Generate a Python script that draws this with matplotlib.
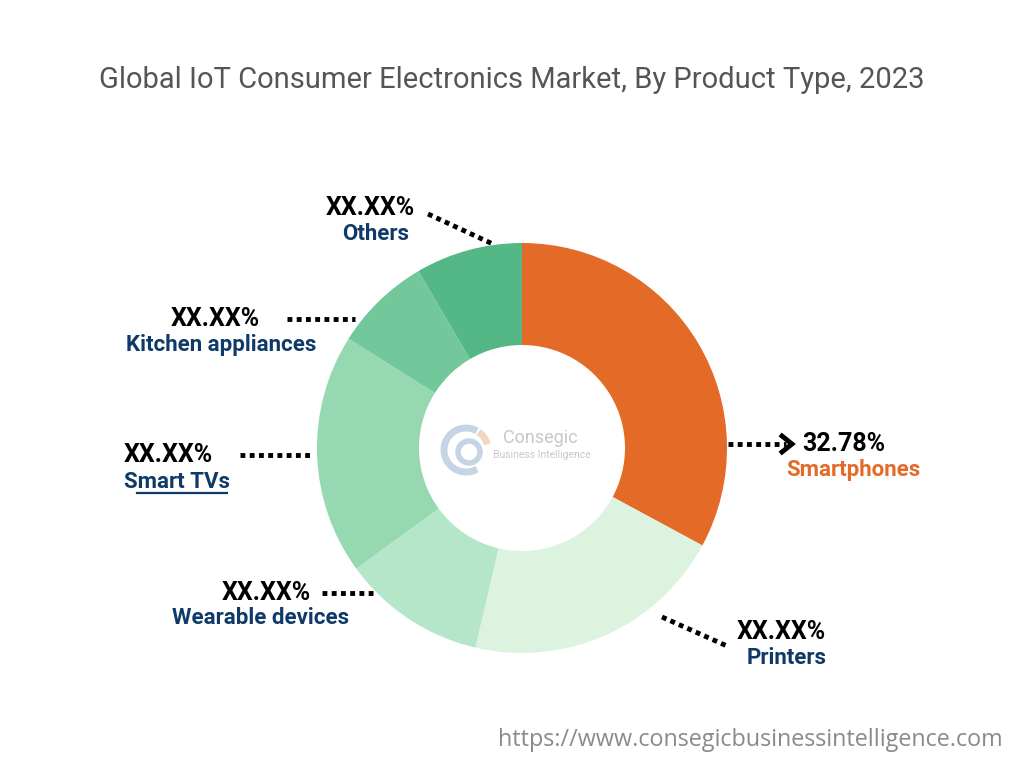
import matplotlib.pyplot as plt
import matplotlib.patches as mpatches

# data
categories = ['Smartphones', 'Printers', 'Wearable devices', 'Smart TVs',
              'Kitchen appliances', 'Others']
shares = [32.78, 20.7, 11.3, 18.9, 7.6, 8.4]
value_labels = ['32.78%', 'XX.XX%', 'XX.XX%', 'XX.XX%', 'XX.XX%', 'XX.XX%']
colors = ['#E36A27', '#DBF3DF', '#B5E6C9', '#96D9B1', '#73C89B', '#53B886']

H = 768
def Y(py):  # pixel row -> data y
    return H - py

plt.rcParams['font.family'] = ['Roboto', 'DejaVu Sans']
fig = plt.figure(figsize=(10.24, 7.68), dpi=100)
ax = fig.add_axes([0, 0, 1, 1])
ax.set_xlim(0, 1024)
ax.set_ylim(0, H)
ax.set_aspect('equal')
ax.axis('off')

ax.pie(shares, colors=colors, startangle=90, counterclock=False,
       center=(522, Y(448)), radius=205, frame=True,
       wedgeprops=dict(width=102, linewidth=0))
ax.set_xlim(0, 1024)
ax.set_ylim(0, H)
ax.axis('off')

ax.text(512, Y(80), 'Global IoT Consumer Electronics Market, By Product Type, 2023',
        ha='center', va='center', fontsize=21, color='#555555')

# leader lines
dots = dict(color='black', linestyle=(0, (1, 0.9)), linewidth=3.5, solid_capstyle='butt')
lines = [((728, 444), (786, 444)), ((662, 617), (727, 646)), ((322, 593), (375, 593)),
         ((240, 455), (310, 455)), ((287, 319), (355, 319)), ((428, 214), (495, 245))]
for (x0, y0), (x1, y1) in lines:
    ax.plot([x0, x1], [Y(y0), Y(y1)], **dots)
ax.plot([782, 792, 782], [Y(436), Y(444), Y(452)], color='black', linewidth=3.5,
        solid_joinstyle='miter')

navy = '#0F3A68'
# (value xy, name xy, ha)
pos = [((802, 444), (853, 470), 'left'), ((781, 632), (787, 658), 'center'),
       ((266, 593), (261, 618), 'center'), ((124, 455), (124, 482), 'left'),
       ((215, 319), (221, 345), 'center'), ((370, 208), (376, 234), 'center')]
for i, cat in enumerate(categories):
    (vx, vy), (nx, ny), ha = pos[i]
    ax.text(vx, Y(vy), value_labels[i], ha=ha, va='center', fontsize=18,
            fontweight='bold', color='black')
    ax.text(nx, Y(ny), cat, ha='center' if i != 3 else 'left', va='center',
            fontsize=16, fontweight='bold',
            color='#E36A27' if i == 0 else navy)
ax.plot([137, 227], [Y(493), Y(493)], color=navy, linewidth=1.6)

# faint logo in the hole
ax.add_patch(mpatches.Arc((466, Y(450)), 44, 44, theta1=60, theta2=300,
                          color='#C5D5E5', linewidth=5))
ax.add_patch(mpatches.Circle((469, Y(452)), 11, fill=False, color='#C5D5E5', linewidth=4))
ax.add_patch(mpatches.Arc((466, Y(450)), 44, 44, theta1=15, theta2=55,
                          color='#F4D3C0', linewidth=5))
ax.text(503, Y(438), 'Consegic', fontsize=13, color='#C8C8CC', va='center')
ax.text(493, Y(455), 'Business Intelligence', fontsize=7.5, color='#C8C8CC', va='center')

ax.text(1003, Y(740), 'https://www.consegicbusinessintelligence.com', ha='right',
        va='center', fontsize=16.8, color='#8A8A8A', family=['Open Sans', 'DejaVu Sans'])

fig.savefig('out.png', dpi=100, facecolor='white')
